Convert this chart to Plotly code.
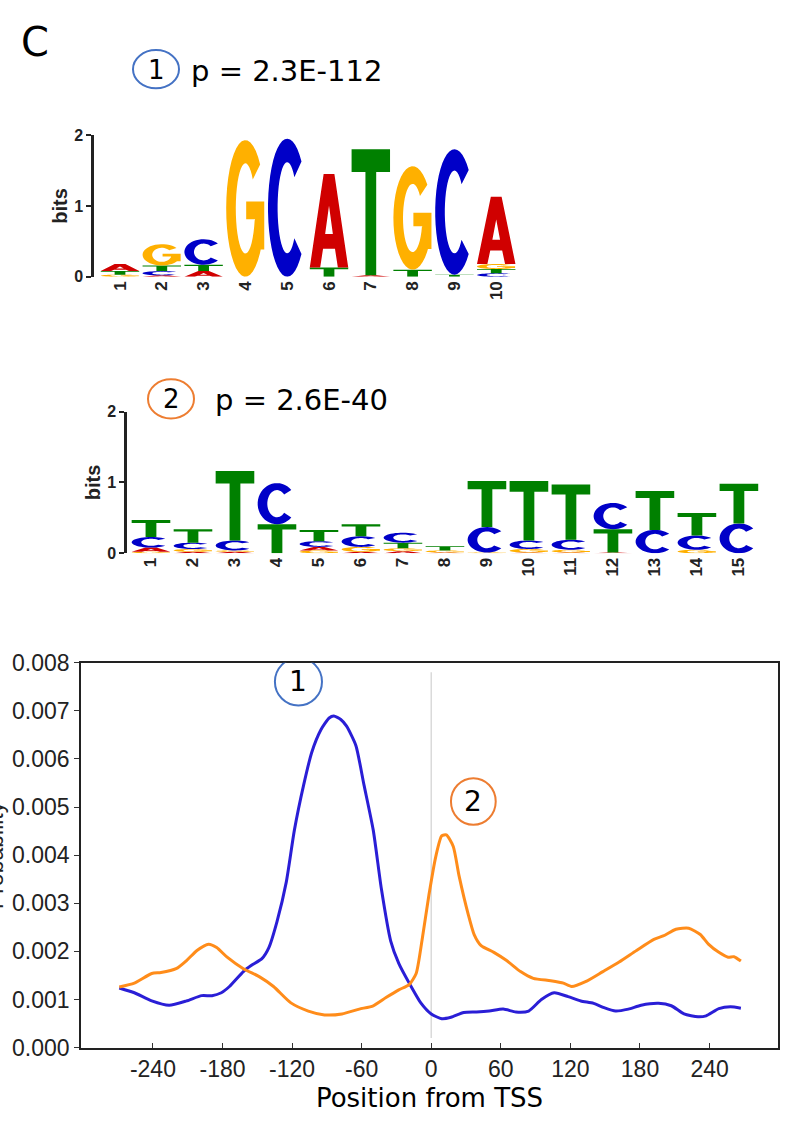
import numpy as np
import plotly.graph_objects as go

W, H = 789, 1129

# ---------------- data ----------------
# Motif 1 information per position, bits
M1_POS = list(range(1, 11))
M1_A = [0.10, 0.02, 0.08, 0.00, 0.00, 1.32, 0.02, 0.00, 0.00, 0.95]
M1_C = [0.00, 0.06, 0.36, 0.00, 1.95, 0.00, 0.00, 0.00, 1.77, 0.05]
M1_G = [0.03, 0.30, 0.00, 1.93, 0.00, 0.00, 0.00, 1.46, 0.00, 0.07]
M1_T = [0.05, 0.08, 0.09, 0.00, 0.00, 0.13, 1.78, 0.10, 0.03, 0.06]

# Motif 2 information per position, bits
M2_POS = list(range(1, 16))
M2_A = [0.06, 0.02, 0.02, 0.00, 0.05, 0.02, 0.03, 0.01, 0.00, 0.01, 0.01, 0.01, 0.00, 0.00, 0.00]
M2_C = [0.15, 0.09, 0.14, 0.58, 0.08, 0.15, 0.14, 0.00, 0.36, 0.12, 0.14, 0.37, 0.33, 0.20, 0.42]
M2_G = [0.02, 0.04, 0.02, 0.00, 0.04, 0.07, 0.04, 0.03, 0.01, 0.05, 0.04, 0.00, 0.00, 0.05, 0.00]
M2_T = [0.24, 0.19, 0.98, 0.41, 0.16, 0.17, 0.08, 0.06, 0.65, 0.84, 0.78, 0.33, 0.55, 0.32, 0.56]

# Site probability vs position relative to TSS
M1_X = [-269, -256, -241, -226, -211, -198, -189, -181, -174, -162,
        -155, -146, -140, -133, -125, -118, -110, -103, -95, -88,
        -84, -78, -73, -65, -58, -50, -43, -35, -28, -19,
        -9, 0, 9, 17, 28, 39, 50, 62, 73, 84,
        95, 106, 118, 129, 140, 149, 159, 170, 181, 196,
        207, 218, 230, 237, 248, 258, 267]
M1_PROB = [0.00124, 0.00114, 0.00097, 0.00088, 0.00097, 0.00108, 0.00108, 0.00114, 0.00127, 0.00158,
           0.00171, 0.00185, 0.00208, 0.00262, 0.00344, 0.00452, 0.00546, 0.00614, 0.00661, 0.00685,
           0.00689, 0.00682, 0.00668, 0.00628, 0.00546, 0.00452, 0.00330, 0.00222, 0.00175, 0.00134,
           0.00093, 0.00070, 0.00060, 0.00063, 0.00073, 0.00074, 0.00076, 0.00080, 0.00074, 0.00076,
           0.00100, 0.00114, 0.00106, 0.00097, 0.00092, 0.00083, 0.00076, 0.00080, 0.00088, 0.00092,
           0.00087, 0.00070, 0.00064, 0.00066, 0.00081, 0.00085, 0.00082]

M2_X = [-269, -256, -241, -233, -220, -211, -202, -192, -185, -176,
        -162, -148, -136, -121, -106, -92, -77, -62, -50, -39,
        -28, -19, -13, -8, -2, 4, 9, 13, 19, 24,
        32, 37, 43, 54, 65, 77, 88, 103, 114, 121,
        133, 148, 162, 177, 192, 200, 211, 222, 232, 239,
        248, 256, 261, 267]
M2_PROB = [0.00126, 0.00134, 0.00154, 0.00156, 0.00164, 0.00181, 0.00202, 0.00215, 0.00208, 0.00188,
           0.00164, 0.00147, 0.00127, 0.00093, 0.00076, 0.00068, 0.00070, 0.00080, 0.00087, 0.00104,
           0.00120, 0.00131, 0.00154, 0.00222, 0.00317, 0.00398, 0.00440, 0.00442, 0.00418, 0.00357,
           0.00276, 0.00235, 0.00212, 0.00198, 0.00181, 0.00158, 0.00144, 0.00139, 0.00134, 0.00127,
           0.00137, 0.00158, 0.00178, 0.00202, 0.00225, 0.00232, 0.00246, 0.00248, 0.00235, 0.00215,
           0.00198, 0.00188, 0.00189, 0.00180]

X_TICKS = [-240, -180, -120, -60, 0, 60, 120, 180, 240]
Y_TICKS = [0.000, 0.001, 0.002, 0.003, 0.004, 0.005, 0.006, 0.007, 0.008]
TSS = 0

# ---------------- styling ----------------
LETTER_COLORS = {"A": "#D00000", "C": "#0000C8", "G": "#FFB000", "T": "#008000"}
BLUE_LINE = "#2A1ED6"
ORANGE_LINE = "#FF8C1A"
RING_BLUE = "#4472C4"
RING_ORANGE = "#ED7D31"
TEXT_FONT = "DejaVu Sans"
AXIS_FONT = "Liberation Sans, Arial"


def px(x):
    return x / W


def py(y):
    return 1 - y / H


def arc(rx, ry, a0, a1, n=36):
    t = np.radians(np.linspace(a0, a1, n))
    return list(zip(0.5 + rx * np.cos(t), 0.5 + ry * np.sin(t)))


def glyph_outline(letter):
    """Unit-box outlines (u, v in 0..1) of bold sans letters."""
    if letter == "T":
        return [[(0, 1), (0, 0.82), (0.36, 0.82), (0.36, 0), (0.64, 0),
                 (0.64, 0.82), (1, 0.82), (1, 1)]]
    if letter == "A":
        outer = [(0, 0), (0.27, 0), (0.345, 0.2), (0.655, 0.2), (0.73, 0),
                 (1, 0), (0.64, 1), (0.36, 1)]
        hole = [(0.40, 0.36), (0.5, 0.66), (0.60, 0.36)]
        return [outer, hole]
    if letter == "C":
        ring = arc(0.5, 0.5, 42, 318) + arc(0.25, 0.33, 318, 42)
        return [ring]
    if letter == "G":
        ring = arc(0.5, 0.5, 40, 345) + arc(0.25, 0.33, 345, 40)
        stem = [(0.75, 0.2), (0.99, 0.2), (0.99, 0.55), (0.75, 0.55)]
        bar = [(0.52, 0.42), (0.99, 0.42), (0.99, 0.55), (0.52, 0.55)]
        return [ring, stem, bar]
    return []


def letter_path(letter, xc, y0, h, width=0.92):
    x0 = xc - width / 2
    parts = []
    for poly in glyph_outline(letter):
        pts = [f"{x0 + u * width:.4f},{y0 + v * h:.5f}" for u, v in poly]
        parts.append("M" + " L".join(pts) + " Z")
    return " ".join(parts)


def logo_shapes(positions, columns, xref, yref):
    shapes = []
    for i, pos in enumerate(positions):
        stack = sorted(((col[i], base) for base, col in columns.items()), key=lambda s: s[0])
        y = 0.0
        for h, base in stack:
            if h >= 0.005:
                shapes.append(dict(type="path", path=letter_path(base, pos, y, h),
                                   xref=xref, yref=yref, fillcolor=LETTER_COLORS[base],
                                   fillrule="nonzero", line=dict(width=0), layer="above"))
            y += h
    return shapes


m1_cols = {"A": M1_A, "C": M1_C, "G": M1_G, "T": M1_T}
m2_cols = {"A": M2_A, "C": M2_C, "G": M2_G, "T": M2_T}
m1_tot = [sum(v) for v in zip(M1_A, M1_C, M1_G, M1_T)]
m2_tot = [sum(v) for v in zip(M2_A, M2_C, M2_G, M2_T)]

fig = go.Figure()

# Probability curves
fig.add_trace(go.Scatter(x=M1_X, y=M1_PROB, mode="lines", name="motif 1",
                         line=dict(color=BLUE_LINE, width=3, shape="spline", smoothing=0.6),
                         xaxis="x", yaxis="y"))
fig.add_trace(go.Scatter(x=M2_X, y=M2_PROB, mode="lines", name="motif 2",
                         line=dict(color=ORANGE_LINE, width=3, shape="spline", smoothing=0.6),
                         xaxis="x", yaxis="y"))

# Invisible column totals so the logo subplots are registered
fig.add_trace(go.Scatter(x=M1_POS, y=m1_tot, mode="markers", marker=dict(opacity=0),
                         xaxis="x2", yaxis="y2", hoverinfo="x+y"))
fig.add_trace(go.Scatter(x=M2_POS, y=m2_tot, mode="markers", marker=dict(opacity=0),
                         xaxis="x3", yaxis="y3", hoverinfo="x+y"))

shapes = []
shapes += logo_shapes(M1_POS, m1_cols, "x2", "y2")
shapes += logo_shapes(M2_POS, m2_cols, "x3", "y3")

# TSS marker line
shapes.append(dict(type="line", x0=TSS, x1=TSS, y0=0.0002, y1=0.0078, xref="x", yref="y",
                   line=dict(color="#DADADA", width=1.5), layer="below"))


def ring(x0, y0, x1, y1, color, xref="paper", yref="paper"):
    return dict(type="circle", x0=x0, x1=x1, y0=y0, y1=y1, xref=xref, yref=yref,
                line=dict(color=color, width=2), fillcolor="rgba(0,0,0,0)", layer="above")


shapes.append(ring(px(133), py(77), px(179), py(38), RING_BLUE))
shapes.append(ring(px(148), py(415), px(194), py(375), RING_ORANGE))
shapes.append(ring(-134.8, 0.00711, -94.2, 0.00810, RING_BLUE, "x", "y"))
shapes.append(ring(17.0, 0.00463, 55.6, 0.00560, RING_ORANGE, "x", "y"))

annotations = [
    dict(text="C", x=px(35), y=py(30), xref="paper", yref="paper", showarrow=False,
         font=dict(family=TEXT_FONT, size=40, color="black"), xanchor="center", yanchor="middle"),
    dict(text="1", x=px(156), y=py(58), xref="paper", yref="paper", showarrow=False,
         font=dict(family=TEXT_FONT, size=26, color="black"), xanchor="center", yanchor="middle"),
    dict(text="p = 2.3E-112", x=px(189), y=py(59), xref="paper", yref="paper", showarrow=False,
         font=dict(family=TEXT_FONT, size=29, color="black"), xanchor="left", yanchor="middle"),
    dict(text="2", x=px(171), y=py(395), xref="paper", yref="paper", showarrow=False,
         font=dict(family=TEXT_FONT, size=26, color="black"), xanchor="center", yanchor="middle"),
    dict(text="p = 2.6E-40", x=px(213), y=py(396), xref="paper", yref="paper", showarrow=False,
         font=dict(family=TEXT_FONT, size=29, color="black"), xanchor="left", yanchor="middle"),
    dict(text="1", x=-114.5, y=0.00760, xref="x", yref="y", showarrow=False,
         font=dict(family=TEXT_FONT, size=28, color="black"), xanchor="center", yanchor="middle"),
    dict(text="2", x=36.3, y=0.00511, xref="x", yref="y", showarrow=False,
         font=dict(family=TEXT_FONT, size=28, color="black"), xanchor="center", yanchor="middle"),
    dict(text="Probability", x=px(-5), y=py(862), xref="paper", yref="paper", showarrow=False,
         textangle=-90, font=dict(family=AXIS_FONT, size=23, color="#222"),
         xanchor="center", yanchor="middle"),
]

logo_tick_font = dict(family=AXIS_FONT, size=17, color="#222", weight="bold")
logo_ytick_font = dict(family=AXIS_FONT, size=16, color="#222", weight="bold")
logo_title_font = dict(family=AXIS_FONT, size=20, color="#222", weight="bold")

fig.update_layout(
    width=W, height=H,
    margin=dict(l=0, r=0, t=0, b=0),
    paper_bgcolor="white", plot_bgcolor="white",
    showlegend=False,
    shapes=shapes,
    annotations=annotations,
    xaxis=dict(domain=[px(81), px(778)], range=[-302, 299], anchor="y",
               tickvals=X_TICKS, ticktext=[str(v) for v in X_TICKS],
               ticks="inside", ticklen=5, tickcolor="#333", tickwidth=1,
               showline=True, linecolor="#222", linewidth=1.5, mirror=True,
               showgrid=False, zeroline=False,
               tickfont=dict(family=AXIS_FONT, size=23, color="#222"),
               title=dict(text="Position from TSS", standoff=8,
                          font=dict(family=TEXT_FONT, size=26, color="black"))),
    yaxis=dict(domain=[py(1059), py(665)], range=[0, 0.008], anchor="x",
               tickvals=Y_TICKS, ticktext=[f"{v:.3f}" for v in Y_TICKS],
               ticks="outside", ticklen=5, tickcolor="#333", tickwidth=1,
               showline=True, linecolor="#222", linewidth=1.5, mirror=True,
               showgrid=False, zeroline=False,
               tickfont=dict(family=AXIS_FONT, size=23, color="#222")),
    xaxis2=dict(domain=[px(94), px(519)], range=[0.378, 10.545], anchor="y2",
                tickvals=M1_POS, ticktext=[str(p) for p in M1_POS], tickangle=-90,
                showline=False, ticks="", showgrid=False, zeroline=False,
                tickfont=logo_tick_font),
    yaxis2=dict(domain=[py(270), py(125)], range=[0, 2], anchor="x2",
                tickvals=[0, 1, 2], ticks="outside", ticklen=5, tickwidth=2, tickcolor="#222",
                showline=True, linecolor="#222", linewidth=2.5,
                showgrid=False, zeroline=False, tickfont=logo_ytick_font,
                title=dict(text="bits", standoff=2, font=logo_title_font)),
    xaxis3=dict(domain=[px(127), px(762)], range=[0.429, 15.55], anchor="y3",
                tickvals=M2_POS, ticktext=[str(p) for p in M2_POS], tickangle=-90,
                showline=False, ticks="", showgrid=False, zeroline=False,
                tickfont=logo_tick_font),
    yaxis3=dict(domain=[py(553), py(408)], range=[0, 2], anchor="x3",
                tickvals=[0, 1, 2], ticks="outside", ticklen=5, tickwidth=2, tickcolor="#222",
                showline=True, linecolor="#222", linewidth=2.5,
                showgrid=False, zeroline=False, tickfont=logo_ytick_font,
                title=dict(text="bits", standoff=2, font=logo_title_font)),
)

fig.write_html("out.html")
